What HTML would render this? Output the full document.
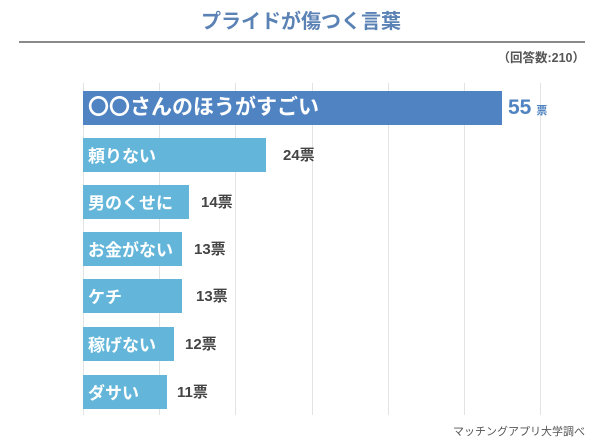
<!DOCTYPE html>
<html><head><meta charset="utf-8"><style>
html,body{margin:0;padding:0;background:#fff;}
body{width:600px;height:448px;position:relative;overflow:hidden;font-family:"Liberation Sans","Noto Sans CJK JP",sans-serif;}
.a{position:absolute;white-space:nowrap;}
.g{position:absolute;top:83px;height:332px;width:1px;background:#e3e3e3;}
.bar{position:absolute;left:83px;height:34px;background:#63b6da;}
.lbl{position:absolute;left:88px;color:#fff;font-weight:bold;font-size:17px;line-height:17px;white-space:nowrap;}
.val{position:absolute;color:#444;font-weight:bold;font-size:15px;line-height:15px;white-space:nowrap;}
</style></head><body>
<div class="a" style="left:0;width:602px;top:12px;text-align:center;font-size:20px;line-height:20px;font-weight:bold;color:#5b82b5;">プライドが傷つく言葉</div>
<div class="a" style="left:19px;top:41px;width:566px;height:1.5px;background:#8a8a8a;"></div>
<div class="a" style="right:15px;top:52px;font-size:12.5px;line-height:13px;color:#555;font-weight:bold;">（回答数:210）</div>

<div class="g" style="left:83px"></div>
<div class="g" style="left:159px"></div>
<div class="g" style="left:235px"></div>
<div class="g" style="left:312px"></div>
<div class="g" style="left:388px"></div>
<div class="g" style="left:464px"></div>
<div class="g" style="left:540px"></div>

<div class="bar" style="top:91px;width:419px;background:#5083c1;"></div>
<div class="lbl" style="top:97px;font-size:21px;line-height:21px;">〇〇さんのほうがすごい</div>
<div class="val" style="left:508px;top:97px;font-size:21px;line-height:21px;color:#5083c1;">55<span style="font-size:11px;margin-left:5px;">票</span></div>

<div class="bar" style="top:138px;width:183px;"></div>
<div class="lbl" style="top:148px;">頼りない</div>
<div class="val" style="left:283px;top:148px;">24票</div>

<div class="bar" style="top:185px;width:106px;"></div>
<div class="lbl" style="top:195px;">男のくせに</div>
<div class="val" style="left:201px;top:195px;">14票</div>

<div class="bar" style="top:232px;width:99px;"></div>
<div class="lbl" style="top:242px;">お金がない</div>
<div class="val" style="left:194px;top:242px;">13票</div>

<div class="bar" style="top:279px;width:99px;"></div>
<div class="lbl" style="top:289px;">ケチ</div>
<div class="val" style="left:196px;top:289px;">13票</div>

<div class="bar" style="top:327px;width:91px;"></div>
<div class="lbl" style="top:337px;">稼げない</div>
<div class="val" style="left:185px;top:337px;">12票</div>

<div class="bar" style="top:375px;width:84px;"></div>
<div class="lbl" style="top:385px;">ダサい</div>
<div class="val" style="left:177px;top:385px;">11票</div>

<div class="a" style="right:15px;top:426px;font-size:11px;line-height:12px;color:#555;">マッチングアプリ大学調べ</div>
</body></html>
